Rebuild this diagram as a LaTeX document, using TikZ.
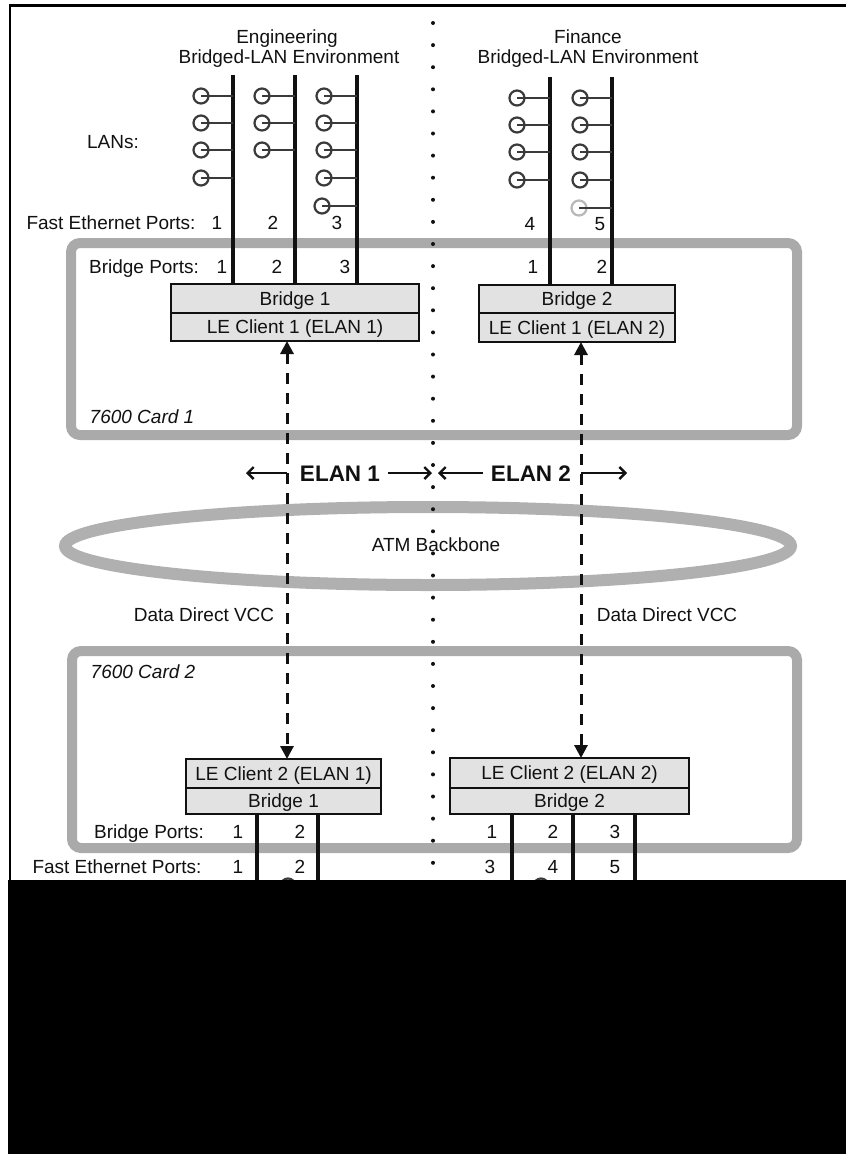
\documentclass[tikz,border=0pt]{standalone}
\usepackage{fontspec}
\setmainfont{Liberation Sans}
\usetikzlibrary{arrows.meta}
\definecolor{cardgray}{HTML}{AAAAAA}
\definecolor{ellgray}{HTML}{B0B0B0}
\definecolor{boxfill}{HTML}{E2E2E2}
\definecolor{ink}{HTML}{111111}
\definecolor{ringc}{HTML}{3A3A3A}
\definecolor{faintc}{HTML}{B8B8B8}
\begin{document}
\begin{tikzpicture}[x=1pt,y=-1pt,
  lbl/.style={inner sep=0pt, outer sep=0pt, font=\fontsize{19}{22}\selectfont, text height=13.6pt, text depth=0pt, text=ink},
  elanlbl/.style={inner sep=0pt, outer sep=0pt, font=\fontsize{22.5}{26}\selectfont\bfseries, text height=16pt, text depth=0pt, text=ink},
  cardlbl/.style={lbl, font=\fontsize{19}{22}\selectfont\itshape},
  card/.style={draw=cardgray, line width=10pt, rounded corners=9pt},
  part/.style={draw=ink, line width=1.8pt, fill=boxfill, inner sep=0pt, outer sep=0pt, font=\fontsize{19}{22}\selectfont, text height=13.6pt, text depth=0pt, text=ink},
  lan/.style={line width=3.2pt, draw=ink},
  pc/.style={circle, draw=ringc, line width=2.2pt, minimum size=15pt, inner sep=0pt, outer sep=0pt},
  stub/.style={line width=2.2pt, draw=ringc},
  vcc/.style={draw=ink, line width=3pt, dash pattern=on 11pt off 9pt, {Triangle[length=13pt,width=13pt]}-{Triangle[length=13pt,width=13pt]}},
  elanarrow/.style={draw=ink, line width=2.4pt, -{Straight Barb[length=6pt,width=12pt]}},
]
\useasboundingbox (0,0) rectangle (846,1154);
\fill[white] (0,0) rectangle (846,1154);

% cards and backbone
\draw[card] (71,243) rectangle (797,435);
\draw[card] (72,651) rectangle (797,848);
\draw[draw=ellgray, line width=12pt] (428,546) ellipse [x radius=363, y radius=39];

% bridge boxes (card 1)
\node[part, anchor=north west, minimum width=248pt, minimum height=29pt] (br1) at (171,284) {Bridge 1};
\node[part, anchor=north, minimum width=248pt, minimum height=28pt] (le1e) at (br1.south) {LE Client 1 (ELAN 1)};
\node[part, anchor=north west, minimum width=196pt, minimum height=28pt] (br2) at (479,285) {Bridge 2};
\node[part, anchor=north, minimum width=196pt, minimum height=29pt] (le1f) at (br2.south) {LE Client 1 (ELAN 2)};

% boxes (card 2)
\node[part, anchor=north west, minimum width=195pt, minimum height=29pt] (le2e) at (186,759) {LE Client 2 (ELAN 1)};
\node[part, anchor=north, minimum width=195pt, minimum height=26pt] (br1b) at (le2e.south) {Bridge 1};
\node[part, anchor=north west, minimum width=239pt, minimum height=30pt] (le2f) at (450,758) {LE Client 2 (ELAN 2)};
\node[part, anchor=north, minimum width=239pt, minimum height=26pt] (br2b) at (le2f.south) {Bridge 2};

% LAN trunk lines
\coordinate (e1t) at (233,75);
\coordinate (e2t) at (295,75);
\coordinate (e3t) at (357,75);
\coordinate (f1t) at (550,77);
\coordinate (f2t) at (612,77);
\draw[lan] (e1t) -- (e1t |- br1.north);
\draw[lan] (e2t) -- (e2t |- br1.north);
\draw[lan] (e3t) -- (e3t |- br1.north);
\draw[lan] (f1t) -- (f1t |- br2.north);
\draw[lan] (f2t) -- (f2t |- br2.north);

% stations
\foreach \y [count=\i] in {96,123,150,178} {
  \node[pc] (ea\i) at (201,\y) {};
  \draw[stub] (ea\i.center) -- (ea\i.center -| e1t);
}
\foreach \y [count=\i] in {96,123,150} {
  \node[pc] (eb\i) at (262,\y) {};
  \draw[stub] (eb\i.center) -- (eb\i.center -| e2t);
}
\foreach \y [count=\i] in {96,123,150,178} {
  \node[pc] (ec\i) at (324,\y) {};
  \draw[stub] (ec\i.center) -- (ec\i.center -| e3t);
}
\node[pc] (ec5) at (322,206) {};
\draw[stub] (ec5.center) -- (ec5.center -| e3t);
\foreach \y [count=\i] in {98,125,152,180} {
  \node[pc] (fa\i) at (517,\y) {};
  \draw[stub] (fa\i.center) -- (fa\i.center -| f1t);
}
\foreach \y [count=\i] in {98,125,152,180} {
  \node[pc] (fb\i) at (580,\y) {};
  \draw[stub] (fb\i.center) -- (fb\i.center -| f2t);
}
\node[pc, draw=faintc] (fb5) at (579,208) {};
\draw[stub] (fb5.center) -- (fb5.center -| f2t);

% lower port lines
\coordinate (l1) at (257,882);
\coordinate (l2) at (318,882);
\coordinate (l3) at (512,882);
\coordinate (l4) at (573,882);
\coordinate (l5) at (635,882);
\draw[lan] (l1 |- br1b.south) -- (l1);
\draw[lan] (l2 |- br1b.south) -- (l2);
\draw[lan] (l3 |- br2b.south) -- (l3);
\draw[lan] (l4 |- br2b.south) -- (l4);
\draw[lan] (l5 |- br2b.south) -- (l5);
\node[pc] (gx1) at (288,886) {};
\node[pc] (gx2) at (541,886) {};

% data direct VCC arrows
\coordinate (ax1) at (287,0);
\coordinate (ax2) at (581,0);
\draw[vcc] (le1e.south -| ax1) -- (le2e.north -| ax1);
\draw[vcc] (le1f.south -| ax2) -- (le2f.north -| ax2);

% ELAN labels and arrows
\node[elanlbl] (elan1) at (340,473) {ELAN 1};
\node[elanlbl] (elan2) at (531,473) {ELAN 2};
\coordinate (e1l) at (246,473);
\coordinate (e1r) at (432,473);
\coordinate (e2l) at (438,473);
\coordinate (e2r) at (627,473);
\draw[elanarrow] (elan1.west -| ax1) -- (e1l);
\draw[elanarrow] ([xshift=8pt]elan1.east) -- (e1r);
\draw[elanarrow] ([xshift=-8pt]elan2.west) -- (e2l);
\draw[elanarrow] (elan2.east -| ax2) -- (e2r);

% titles
\node[lbl] (t1a) at (287,37) {Engineering};
\node[lbl] (t1b) at (289,57) {Bridged-LAN Environment};
\node[lbl] (t2a) at (588,37) {Finance};
\node[lbl] (t2b) at (588,57) {Bridged-LAN Environment};

% upper labels
\node[lbl] (lans) at (113,142) {LANs:};
\node[lbl] (fep) at (111,223) {Fast Ethernet Ports:};
\node[lbl] (fe1) at (217,223) {1};
\node[lbl] (fe2) at (273,223) {2};
\node[lbl] (fe3) at (337,223) {3};
\node[lbl] (fe4) at (530,224) {4};
\node[lbl] (fe5) at (600,224) {5};
\node[lbl] (bpu) at (144,267) {Bridge Ports:};
\node[lbl] (bp1) at (222,267) {1};
\node[lbl] (bp2) at (277,267) {2};
\node[lbl] (bp3) at (345,267) {3};
\node[lbl] (bp4) at (533,267) {1};
\node[lbl] (bp5) at (602,267) {2};
\node[cardlbl] (c1) at (142,417) {7600 Card 1};

% middle labels
\node[lbl] (atm) at (436,545) {ATM Backbone};
\node[lbl] (ddl) at (204,615) {Data Direct VCC};
\node[lbl] (ddr) at (667,615) {Data Direct VCC};

% lower labels
\node[cardlbl] (c2) at (143,672) {7600 Card 2};
\node[lbl] (bpl) at (149,832) {Bridge Ports:};
\node[lbl] (lb1) at (238,832) {1};
\node[lbl] (lb2) at (300,832) {2};
\node[lbl] (lb3) at (492,832) {1};
\node[lbl] (lb4) at (553,832) {2};
\node[lbl] (lb5) at (615,832) {3};
\node[lbl] (fel) at (117,867) {Fast Ethernet Ports:};
\node[lbl] (lf1) at (238,867) {1};
\node[lbl] (lf2) at (300,867) {2};
\node[lbl] (lf3) at (490,867) {3};
\node[lbl] (lf4) at (553,867) {4};
\node[lbl] (lf5) at (615,867) {5};

% dotted divider
\foreach \k in {0,...,38} \fill[ink] (433,{23+22.1*\k}) circle (2);

% frame and black band
\fill[black] (8,880) rectangle (846,1154);
\draw[black, line width=2.6pt] (9.8,881) -- (9.8,5.5) -- (846,5.5);
\end{tikzpicture}
\end{document}
